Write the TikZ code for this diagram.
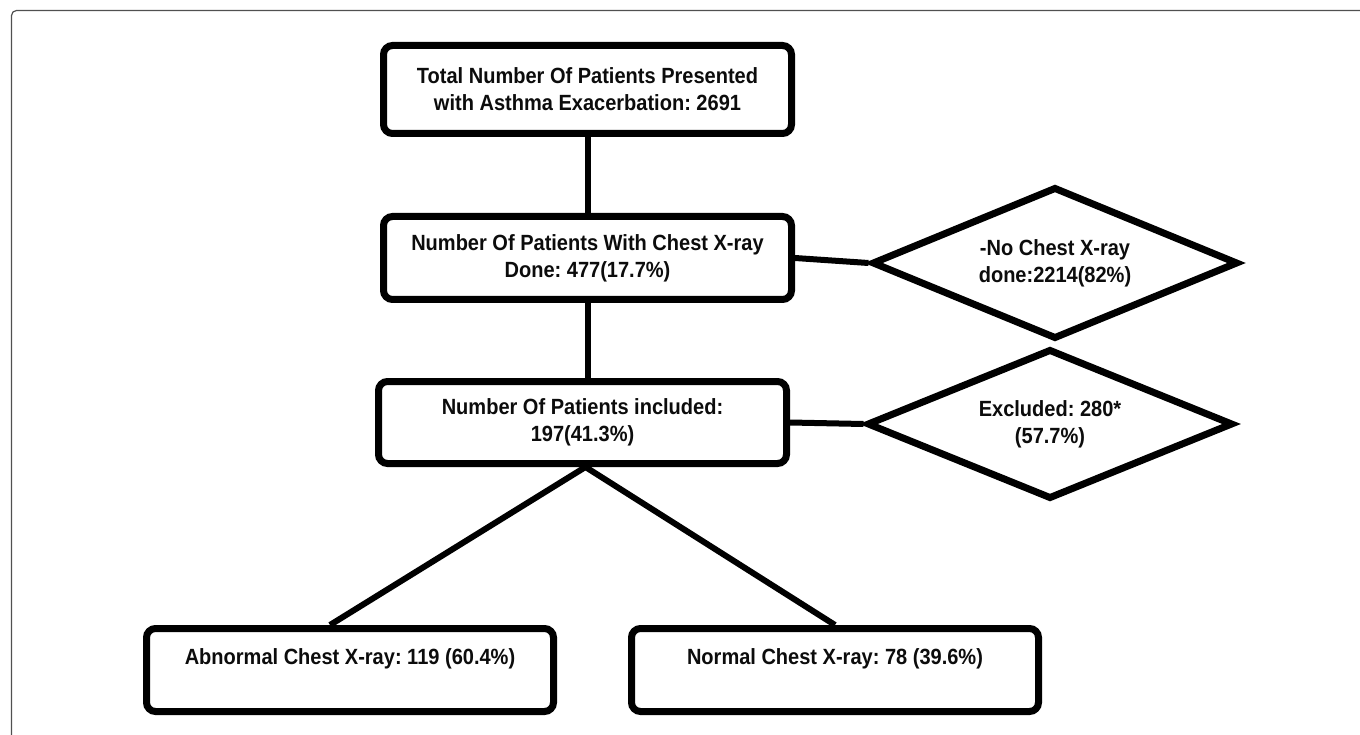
\documentclass[tikz,border=0pt]{standalone}
\usepackage{fontspec}
\newfontfamily\labfont{Liberation Sans}[FakeStretch=0.91]
\usetikzlibrary{shapes.geometric,calc}
\definecolor{framecol}{RGB}{80,80,80}
\definecolor{ink}{RGB}{12,12,12}
\frenchspacing
\tikzset{
  boxnode/.style={draw=black, line width=7pt, rounded corners=9pt, rectangle,
    minimum width=408pt, minimum height=83pt, inner sep=0pt, align=center,
    text=ink, font=\labfont\bfseries\fontsize{22}{27}\selectfont},
  decnode/.style={draw=black, line width=7pt, diamond, aspect=2.46, line join=miter,
    minimum width=366pt, minimum height=150pt, inner sep=0pt, align=center,
    text=ink, font=\labfont\bfseries\fontsize{22}{27}\selectfont},
  link/.style={draw=black, line width=6pt}
}
\begin{document}
\begin{tikzpicture}[x=1pt,y=-1pt]
\useasboundingbox (0,0) rectangle (1360,735);
\fill[white] (0,0) rectangle (1360,735);
\draw[framecol, line width=1.2pt, rounded corners=5pt] (1375,10.5) -- (11.5,10.5) -- (11.5,750);

\node[boxnode, minimum height=88pt] (b1) at (587.5,89.5) {Total Number Of Patients Presented\\with Asthma Exacerbation: 2691};
\node[boxnode] (b2) at (587.5,258) {Number Of Patients With Chest X-ray\\Done: 477(17.7\%)};
\node[boxnode, minimum height=82pt] (b3) at (582.5,422.5) {Number Of Patients included:\\197(41.3\%)};
\node[boxnode, minimum width=407pt] (ab) at (350,670) {Abnormal Chest X-ray: 119 (60.4\%)\\\mbox{}};
\node[boxnode, minimum width=407pt] (nb) at (835,670) {Normal Chest X-ray: 78 (39.6\%)\\\mbox{}};

\node[decnode, minimum height=152pt] (d1) at (1055,263) {-No Chest X-ray\\done:2214(82\%)};
\node[decnode] (d2) at (1050,424) {Excluded: 280*\\(57.7\%)};

\draw[link] (b1.south) -- (b2.north);
\draw[link] (b2.south) -- (b2.south |- b3.north);
\draw[link] (b2.east) -- (d1.west);
\draw[link] (b3.east) -- (d2.west);
\draw[link] ([xshift=3pt]b3.south) -- ([xshift=-20pt]ab.north);
\draw[link] ([xshift=3pt]b3.south) -- (nb.north);
\end{tikzpicture}
\end{document}
